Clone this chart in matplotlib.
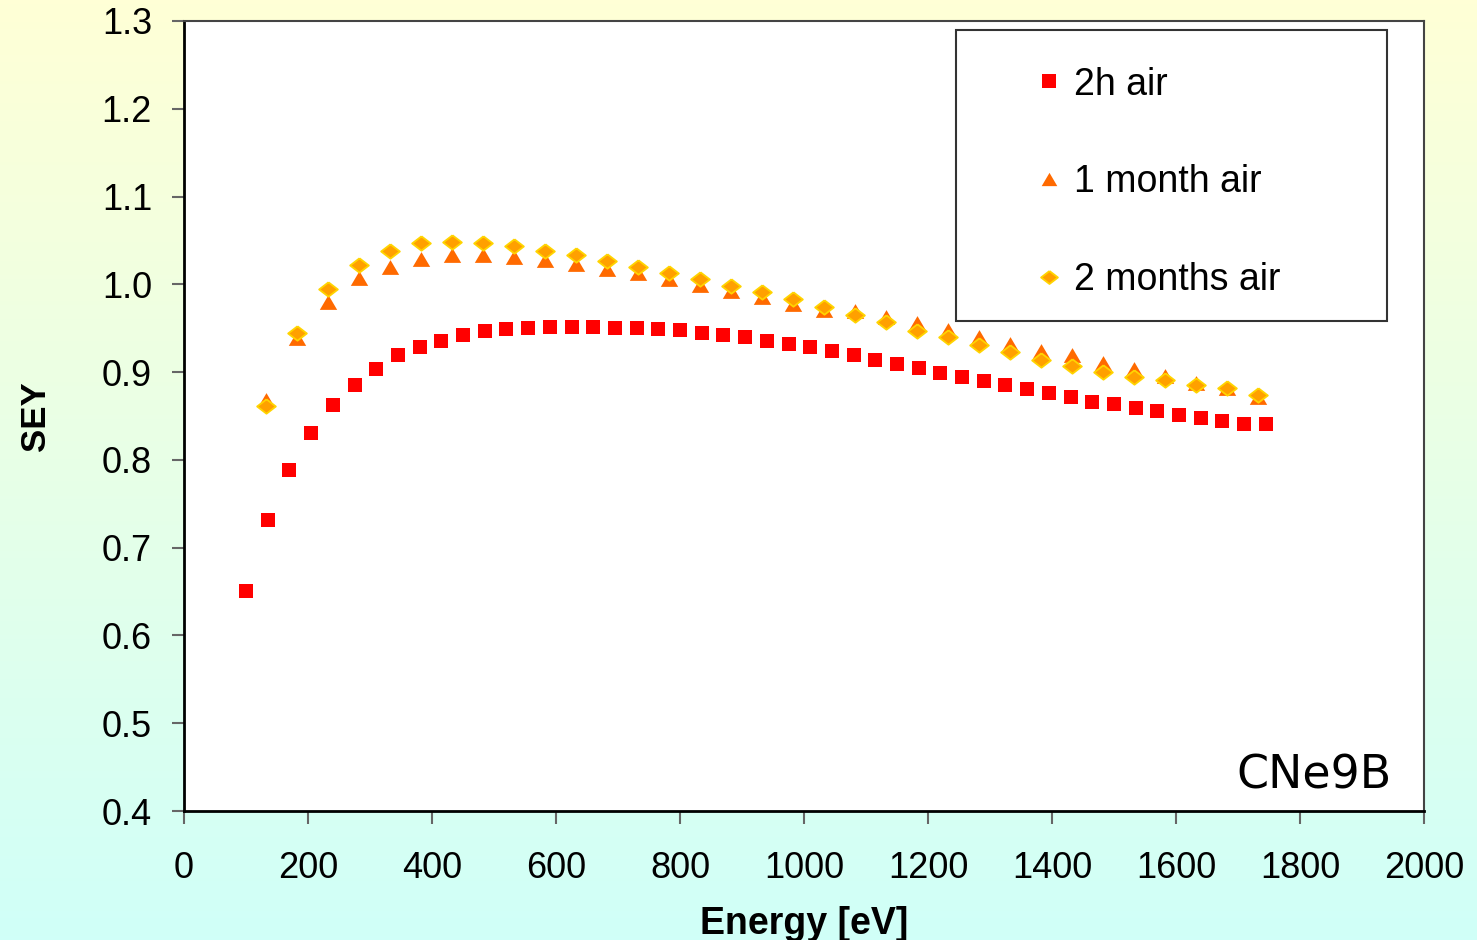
"""
SEY vs primary electron energy for sample CNe9B after air exposure.
"""

import numpy as np
import matplotlib
matplotlib.use("Agg")
import matplotlib.pyplot as plt
from matplotlib.colors import LinearSegmentedColormap
from matplotlib.patches import Rectangle

# 2h air: 48 points, 100 eV to 1745 eV in 35 eV steps
energy_2h = [100 + 35 * i for i in range(48)]
sey_2h = [0.651, 0.732, 0.788, 0.831, 0.863, 0.885, 0.904, 0.920, 0.929, 0.935,
          0.942, 0.947, 0.949, 0.950, 0.951, 0.951, 0.951, 0.950, 0.950, 0.949,
          0.948, 0.945, 0.942, 0.940, 0.935, 0.932, 0.929, 0.924, 0.920, 0.914,
          0.909, 0.905, 0.899, 0.894, 0.890, 0.885, 0.881, 0.876, 0.872, 0.866,
          0.864, 0.859, 0.856, 0.851, 0.848, 0.844, 0.841, 0.841]

# 1 month and 2 months air: 33 points, 50 eV steps
energy_aged = [132 + 50 * i for i in range(33)]
sey_1month = [0.868, 0.939, 0.980, 1.007, 1.020, 1.029, 1.033, 1.033, 1.031, 1.028,
              1.023, 1.017, 1.013, 1.006, 0.999, 0.992, 0.986, 0.978, 0.971, 0.970,
              0.963, 0.956, 0.948, 0.940, 0.932, 0.924, 0.920, 0.910, 0.904, 0.896,
              0.888, 0.882, 0.872]
sey_2months = [0.861, 0.945, 0.995, 1.022, 1.038, 1.047, 1.048, 1.047, 1.044, 1.038,
               1.033, 1.027, 1.020, 1.013, 1.006, 0.998, 0.991, 0.983, 0.974, 0.965,
               0.957, 0.947, 0.940, 0.931, 0.923, 0.914, 0.907, 0.900, 0.894, 0.891,
               0.885, 0.882, 0.874]

x_ticks = list(range(0, 2001, 200))
y_ticks = [0.4, 0.5, 0.6, 0.7, 0.8, 0.9, 1.0, 1.1, 1.2, 1.3]

plt.rcParams["font.family"] = ["Liberation Sans", "DejaVu Sans"]

fig = plt.figure(figsize=(14.77, 9.40), dpi=100)

# vertical yellow -> cyan background
bg = fig.add_axes([0, 0, 1, 1], zorder=-10)
grad = LinearSegmentedColormap.from_list("bg", ["#d0fff8", "#ffffd6"])
bg.imshow(np.linspace(0, 1, 256).reshape(-1, 1), aspect="auto", cmap=grad,
          origin="lower", extent=[0, 1, 0, 1])
bg.axis("off")

ax = fig.add_axes([0.1246, 0.1372, 0.8395, 0.8405])
ax.set_facecolor("white")

diamond = [(0, 1), (1.3, 0), (0, -1), (-1.3, 0), (0, 1)]
triangle = [(0, 0.85), (1, -0.85), (-1, -0.85), (0, 0.85)]

ax.plot(energy_2h, sey_2h, ls="none", marker="s", ms=10.5, mew=0,
        color="#ff0000", label="2h air", zorder=3)
ax.plot(energy_aged, sey_1month, ls="none", marker=triangle, ms=12.5, mew=0,
        color="#ff6a00", label="1 month air", zorder=4)
ax.plot(energy_aged, sey_2months, ls="none", marker=diamond, ms=13.5, mew=1.3,
        mfc="#ffa000", mec="#ffd400", label="2 months air", zorder=5)

ax.set_xlim(0, 2000)
ax.set_ylim(0.4, 1.3)
ax.set_xticks(x_ticks)
ax.set_yticks(y_ticks)
ax.set_yticklabels([f"{v:.1f}" for v in y_ticks])
ax.tick_params(axis="both", direction="out", length=9, width=1.5,
               color="#666666", labelsize=26, pad=14)
ax.tick_params(axis="x", pad=20)
for side in ["left", "bottom"]:
    ax.spines[side].set_linewidth(2)
    ax.spines[side].set_color("black")
for side in ["top", "right"]:
    ax.spines[side].set_linewidth(1.5)
    ax.spines[side].set_color("#444444")

ax.set_xlabel("Energy [eV]", fontsize=27, fontweight="bold", labelpad=14)
ax.set_ylabel("SEY", fontsize=25, fontweight="bold", labelpad=36)

# legend box
ax.add_patch(Rectangle((0.6226, 0.620), 0.3474, 0.3686, transform=ax.transAxes,
                       facecolor="white", edgecolor="#333333", lw=1.5, zorder=6))
ax.legend(loc="upper left", bbox_to_anchor=(0.66, 0.985), frameon=False,
          fontsize=27, labelspacing=1.65, handlelength=0.7, handletextpad=0.3,
          markerscale=0.9).set_zorder(7)

ax.text(0.974, 0.029, "CNe9B", transform=ax.transAxes, ha="right", va="baseline",
        fontsize=33, family="DejaVu Sans", zorder=7)

fig.savefig("out.png", dpi=100)
